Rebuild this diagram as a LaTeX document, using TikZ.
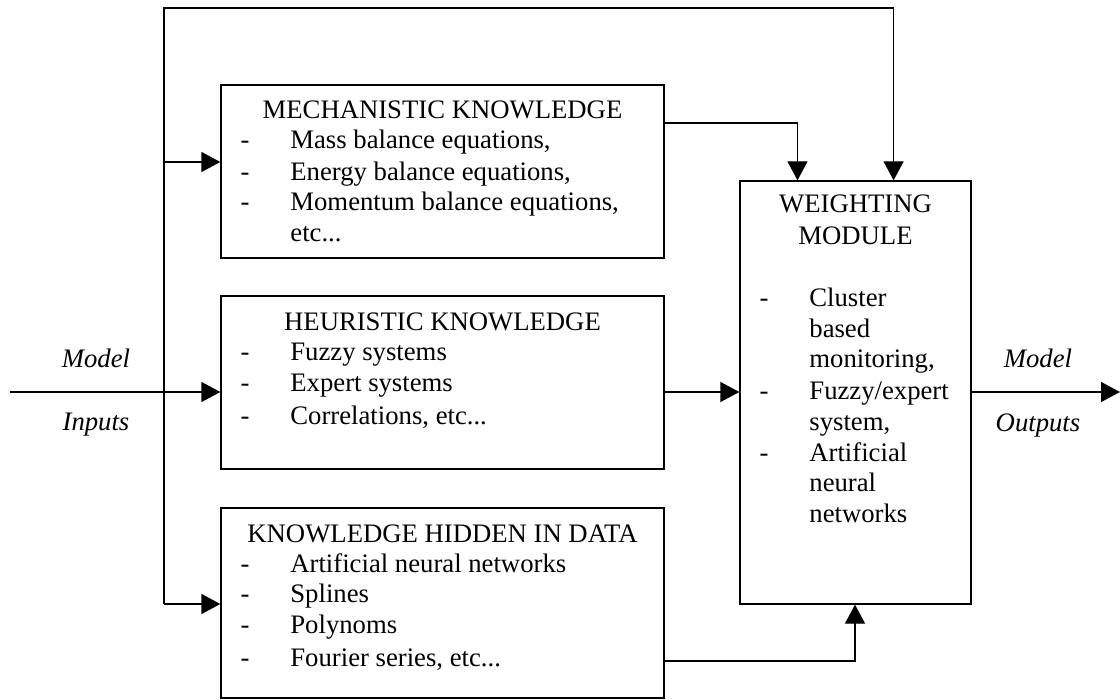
\documentclass[tikz,border=0pt]{standalone}
\usepackage{fontspec}
\setmainfont{Liberation Serif}
\usetikzlibrary{arrows.meta}
\tikzset{
  box/.style={draw, line width=0.65pt, rectangle, inner sep=0pt},
  conn/.style={-{Triangle[length=9.5pt,width=10pt]}, line width=0.65pt},
  wire/.style={line width=0.65pt},
  txt/.style={anchor=base west, inner sep=0pt, font=\fontsize{13.35}{15.35}\selectfont},
  ctr/.style={anchor=base, inner sep=0pt, font=\fontsize{13.35}{15.35}\selectfont},
  itl/.style={anchor=base, inner sep=0pt, font=\fontsize{13.35}{15.35}\selectfont\itshape},
}
\begin{document}
\begin{tikzpicture}[x=0.5pt,y=-0.5pt]
\useasboundingbox (0,0) rectangle (1120,700);
% boxes
\node[box, minimum width=221.5pt, minimum height=86.5pt] (mech) at (442.5,171.5) {};
\node[box, minimum width=221.5pt, minimum height=86.5pt] (heur) at (442.5,382.5) {};
\node[box, minimum width=221.5pt, minimum height=95pt] (data) at (442.5,603) {};
\node[box, minimum width=115.5pt, minimum height=211.5pt] (weight) at (855.5,392.5) {};
% mechanistic text
\node[ctr] (m0) at (442.5,119) {MECHANISTIC KNOWLEDGE};
\node[ctr] (md1) at (245,149) {-};
\node[txt] (m1) at (290,149) {Mass balance equations,};
\node[ctr] (md2) at (245,181) {-};
\node[txt] (m2) at (290,181) {Energy balance equations,};
\node[ctr] (md3) at (245,211) {-};
\node[txt] (m3) at (290,211) {Momentum balance equations,};
\node[txt] (m4) at (290,242) {etc...};
% heuristic text
\node[ctr] (h0) at (442.5,331) {HEURISTIC KNOWLEDGE};
\node[ctr] (hd1) at (245,361) {-};
\node[txt] (h1) at (290,361) {Fuzzy systems};
\node[ctr] (hd2) at (245,392) {-};
\node[txt] (h2) at (290,392) {Expert systems};
\node[ctr] (hd3) at (245,424) {-};
\node[txt] (h3) at (290,424) {Correlations, etc...};
% data text
\node[ctr] (d0) at (442.5,542) {KNOWLEDGE HIDDEN IN DATA};
\node[ctr] (dd1) at (245,572) {-};
\node[txt] (d1) at (290,572) {Artificial neural networks};
\node[ctr] (dd2) at (245,602) {-};
\node[txt] (d2) at (290,602) {Splines};
\node[ctr] (dd3) at (245,633) {-};
\node[txt] (d3) at (290,633) {Polynoms};
\node[ctr] (dd4) at (245,666) {-};
\node[txt] (d4) at (290,666) {Fourier series, etc...};
% weighting text
\node[ctr] (w0) at (855.5,213) {WEIGHTING};
\node[ctr] (w1) at (855.5,245) {MODULE};
\node[ctr] (wd1) at (764,307) {-};
\node[txt] (w2) at (809,307) {Cluster};
\node[txt] (w3) at (809,338) {based};
\node[txt] (w4) at (809,368) {monitoring,};
\node[ctr] (wd2) at (764,400) {-};
\node[txt] (w5) at (809,400) {Fuzzy/expert};
\node[txt] (w6) at (809,430) {system,};
\node[ctr] (wd3) at (764,461) {-};
\node[txt] (w7) at (809,461) {Artificial};
\node[txt] (w8) at (809,491) {neural};
\node[txt] (w9) at (809,522) {networks};
% side labels
\node[itl] (li1) at (96,368) {Model};
\node[itl] (li2) at (96,430) {Inputs};
\node[itl] (lo1) at (1038,368) {Model};
\node[itl] (lo2) at (1038,431) {Outputs};
% coordinates
\coordinate (in) at (10,392);
\coordinate (out) at (1120,392);
\coordinate (tl) at (164,8);
\coordinate (tr) at (893.6,8);
\coordinate (lm) at (164,162);
\coordinate (lb) at (164,604);
\coordinate (mo) at (797.5,123);
\coordinate (do) at (855,661);
% connectors
\draw[wire] (lb) -- (tl) -- (tr);
\draw[conn] (tr) -- (tr |- weight.north);
\draw[conn] (lm) -- (lm -| mech.west);
\draw[conn] (lb) -- (lb -| data.west);
\draw[conn] (in) -- (in -| heur.west);
\draw[conn] (mo -| mech.east) -- (mo) -- (mo |- weight.north);
\draw[conn] (in -| heur.east) -- (in -| weight.west);
\draw[conn] (do -| data.east) -- (do) -- (do |- weight.south);
\draw[conn] (in -| weight.east) -- (out);
\end{tikzpicture}
\end{document}
